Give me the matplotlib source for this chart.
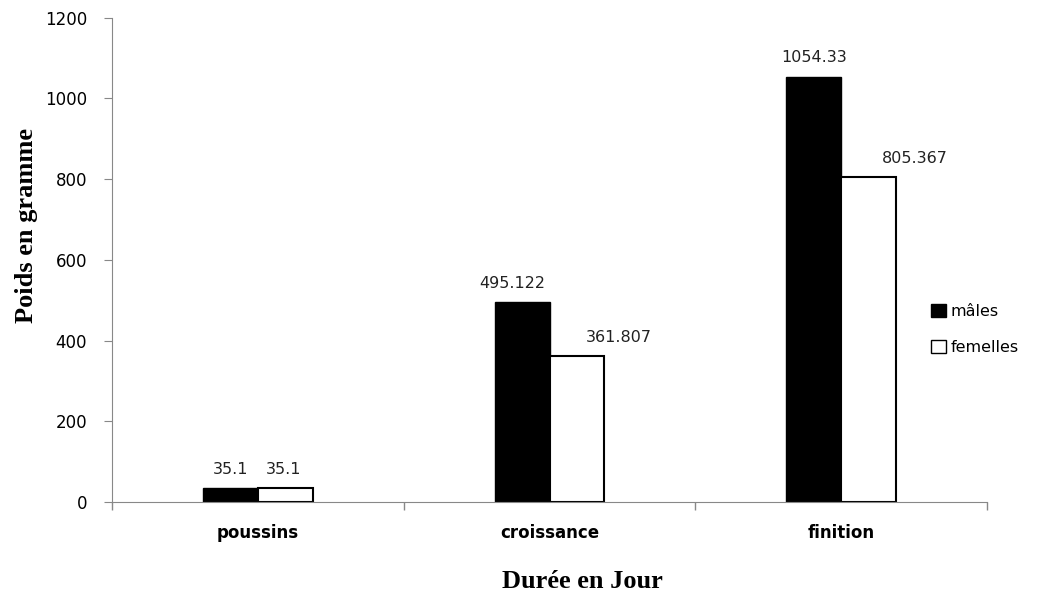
import numpy as np
import matplotlib.pyplot as plt
from matplotlib.patches import Patch

# Data
categories = ['poussins', 'croissance', 'finition']
males = [35.1, 495.122, 1054.33]
femelles = [35.1, 361.807, 805.367]
males_lbl = ['35.1', '495.122', '1054.33']
femelles_lbl = ['35.1', '361.807', '805.367']
# horizontal nudge of the value labels (points), as placed in the original
males_dx = [0, -7, 0]
femelles_dx = [-1, 30, 33]

fig = plt.figure(figsize=(10.39, 5.92), dpi=100)
ax = fig.add_axes([0.108, 0.152, 0.842, 0.818])

x = np.arange(len(categories))
w = 0.188
b1 = ax.bar(x - w / 2, males, w, color='black', edgecolor='black', linewidth=1)
b2 = ax.bar(x + w / 2, femelles, w, color='white', edgecolor='black', linewidth=1.5)

for bars, labels, dxs in ((b1, males_lbl, males_dx), (b2, femelles_lbl, femelles_dx)):
    for r, t, dx in zip(bars, labels, dxs):
        ax.annotate(t, (r.get_x() + r.get_width() / 2, r.get_height()),
                    xytext=(dx, 8), textcoords='offset points',
                    ha='center', va='bottom', fontsize=11.5, color='#222222')

ax.set_xlim(-0.5, 2.5)
ax.set_ylim(0, 1200)
ax.set_yticks(range(0, 1201, 200))

# category labels at centres, tick marks on the boundaries
ax.set_xticks(x)
ax.set_xticklabels(categories, fontsize=12, fontweight='bold')
ax.tick_params(axis='x', which='major', length=0, pad=16)
ax.set_xticks([-0.5, 0.5, 1.5, 2.5], minor=True)
ax.tick_params(axis='x', which='minor', length=6, color='#888888', width=1)
ax.tick_params(axis='y', length=6, color='#888888', labelsize=12, pad=12)

for s in ('top', 'right'):
    ax.spines[s].set_visible(False)
for s in ('left', 'bottom'):
    ax.spines[s].set_color('#888888')

ax.set_xlabel('Durée en Jour', family='Liberation Serif', fontweight='bold',
              fontsize=19)
ax.xaxis.set_label_coords(0.538, -0.14)
ax.set_ylabel('Poids en gramme', family='Liberation Serif', fontweight='bold',
              fontsize=19)
ax.yaxis.set_label_coords(-0.085, 0.57)

handles = [Patch(facecolor='black', edgecolor='black'),
           Patch(facecolor='white', edgecolor='black')]
ax.legend(handles, ['mâles', 'femelles'], frameon=False, fontsize=11.5,
          loc='center left', bbox_to_anchor=(0.92, 0.357), handlelength=0.9,
          handleheight=0.9, handletextpad=0.3, labelspacing=1.3)

fig.savefig('out.png', dpi=100)
